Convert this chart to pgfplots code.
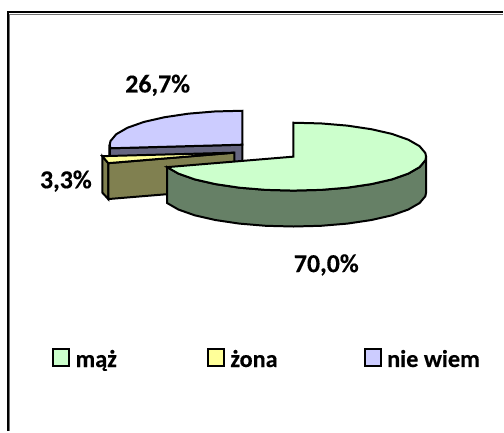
\documentclass[border=0pt]{standalone}
\usepackage{pgfplots}
\pgfplotsset{compat=1.18}
\usepackage{fontspec}
\setmainfont[BoldFeatures={FakeBold=0.3}]{Carlito}
\definecolor{gtop}{HTML}{CCFFCC}
\definecolor{gside}{HTML}{668066}
\definecolor{ytop}{HTML}{FFFF99}
\definecolor{yside}{HTML}{808050}
\definecolor{ptop}{HTML}{CCCCFF}
\definecolor{pside}{HTML}{666680}
\begin{document}
\begin{tikzpicture}[x=1bp,y=1bp]
\begin{axis}[
  at={(0,0)},anchor=south west,
  scale only axis,width=504bp,height=432bp,
  xmin=0,xmax=504,ymin=0,ymax=432,y dir=reverse,
  axis lines=none,clip=false,
  legend columns=3,
  legend cell align=left,
  legend style={at={(axis cs:52,360)},anchor=west,draw=none,fill=none,inner sep=0pt,outer sep=0pt,
    font=\fontsize{24.4}{26}\selectfont\bfseries},
  legend image code/.code={\draw[#1,line width=2.2bp,draw=black] (1.5bp,-6.5bp) rectangle (17.5bp,10bp);},
]
% frame
\addplot[forget plot,draw=black!55,line width=1bp] coordinates {(9.5,432)(9.5,14.5)(504,14.5)};
\addplot[forget plot,draw=black,line width=2.2bp] coordinates {(8,432)(8,12)(504,12)};
% nie wiem, side and cut face
\addplot[forget plot,fill=pside,draw=black,line width=2bp] coordinates {(110,148.6)(243,145)(243,181)(110,184.6)} -- cycle;
\addplot[forget plot,fill=pside,draw=black,line width=2bp] coordinates {(109.5,145)(110,148.6)(110,184.6)(109.5,181)} -- cycle;
% zona, outer side and cut face
\addplot[forget plot,fill=yside,draw=black,line width=2bp] coordinates {(102.5,156.5)(108.5,163.5)(108.5,199.5)(102.5,193)} -- cycle;
\addplot[forget plot,fill=yside,draw=black,line width=2bp] coordinates {(108.5,163.5)(235,153)(235,189)(108.5,199.5)} -- cycle;
% maz, side
\addplot[forget plot,fill=gside,draw=black,line width=2bp] coordinates {
 (427,157)(426.3,160.6)(420.5,167.5)(409.2,174)(392.8,179.8)(372.2,184.5)(348.1,188.1)(321.7,190.3)(294,191)(266.3,190.3)(239.9,188.1)(215.8,184.5)(195.2,179.8)(178.8,174)(167.5,167.5)
 (167.5,203.5)(178.8,210)(195.2,215.8)(215.8,220.5)(239.9,224.1)(266.3,226.3)(294,227)(321.7,226.3)(348.1,224.1)(372.2,220.5)(392.8,215.8)(409.2,210)(420.5,203.5)(426.3,196.6)(427,193)} -- cycle;
% top faces, in legend order
\addplot[fill=gtop,draw=black,line width=2bp] coordinates {
 (294,157)(294,123)(321.7,123.7)(348.1,125.9)(372.2,129.5)(392.8,134.2)(409.2,140)(420.5,146.5)(426.3,153.4)(427,157)(426.3,160.6)(420.5,167.5)(409.2,174)(392.8,179.8)(372.2,184.5)(348.1,188.1)(321.7,190.3)(294,191)(266.3,190.3)(239.9,188.1)(215.8,184.5)(195.2,179.8)(178.8,174)(167.5,167.5)} -- cycle;
\addlegendentry{\makebox[133bp][l]{\hspace*{3.5bp}mąż}}
\addplot[fill=ytop,draw=black,line width=2bp] coordinates {(235,153)(102.5,156.5)(105.5,160)(108.5,163.5)} -- cycle;
\addlegendentry{\makebox[135bp][l]{\hspace*{3.5bp}żona}}
\addplot[fill=ptop,draw=black,line width=2bp] coordinates {
 (243,145)(243,111)(215.3,111.7)(188.9,113.9)(164.8,117.5)(144.2,122.2)(127.8,128)(116.5,134.5)(110.7,141.4)(110,145)(110.7,148.6)} -- cycle;
\addlegendentry{\hspace*{3.5bp}nie wiem}
% labels
\node[font=\fontsize{26}{28}\selectfont\bfseries] at (axis cs:158,85.5) {26,7\%};
\node[font=\fontsize{26}{28}\selectfont\bfseries] at (axis cs:66,181.5) {3,3\%};
\node[font=\fontsize{26}{28}\selectfont\bfseries] at (axis cs:327,265.5) {70,0\%};
\end{axis}
\path[use as bounding box] (0,0) rectangle (504bp,432bp);
\end{tikzpicture}
\end{document}
